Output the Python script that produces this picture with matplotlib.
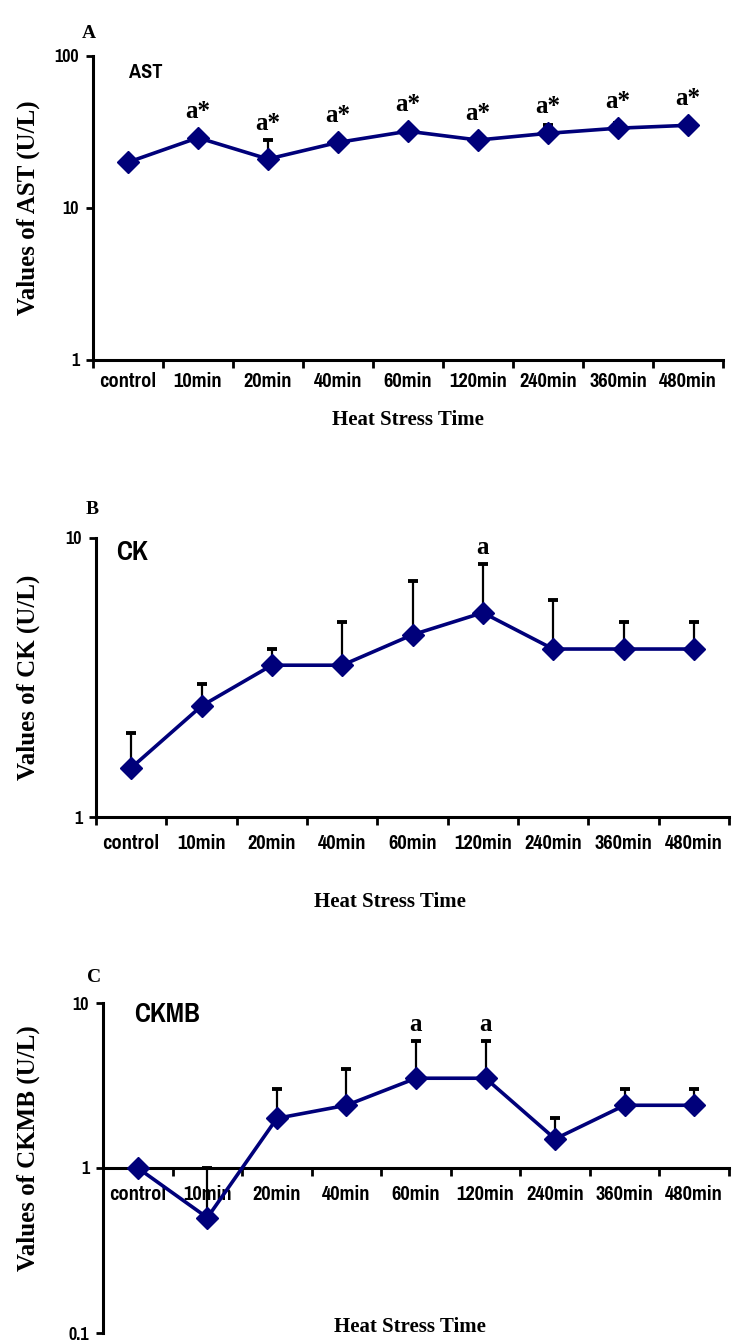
import numpy as np
import matplotlib
matplotlib.use('Agg')
import matplotlib.pyplot as plt
from matplotlib import font_manager
from matplotlib.font_manager import FontProperties
from matplotlib.ticker import LogLocator, NullLocator, FuncFormatter

# data
categories = ['control', '10min', '20min', '40min', '60min', '120min', '240min', '360min', '480min']

ast_mean = [20, 29, 21, 27, 32, 28, 31, 33.5, 35]
ast_err = [1, 1.5, 7, 1.5, 1.5, 1.5, 4, 2.5, 1]
ast_sig = ['', 'a*', 'a*', 'a*', 'a*', 'a*', 'a*', 'a*', 'a*']

ck_mean = [1.5, 2.5, 3.5, 3.5, 4.5, 5.4, 4, 4, 4]
ck_err = [0.5, 0.5, 0.5, 1.5, 2.5, 2.7, 2, 1, 1]
ck_sig = ['', '', '', '', '', 'a', '', '', '']

ckmb_mean = [1, 0.5, 2, 2.4, 3.5, 3.5, 1.5, 2.4, 2.4]
ckmb_err = [0, 0.5, 1, 1.6, 2.4, 2.4, 0.5, 0.6, 0.6]
ckmb_sig = ['', '', '', '', 'a', 'a', '', '', '']


# look for a bold narrow sans (the original has an Arial Narrow look)
def find_narrow():
    found = {}
    for f in font_manager.fontManager.ttflist:
        nm = f.name.lower()
        fn = str(f.fname).lower()
        if 'mono' in nm or 'serif' in nm or f.style != 'normal' or 'italic' in fn:
            continue
        bold = f.weight in ('bold', 700) or fn.endswith('bold.ttf') or fn.endswith('-bold.otf')
        if not bold or 'extrabold' in fn or 'semibold' in fn:
            continue
        if 'narrow' in nm:
            found[0] = f.fname
        elif 'semicondensed' in fn or f.stretch == 'semi-condensed':
            found.setdefault(1, f.fname)
        elif 'extracondensed' in fn or 'extra' in f.stretch:
            continue
        elif 'condensed' in nm or 'condensed' in fn or f.stretch == 'condensed':
            found.setdefault(2, f.fname)
    if not found:
        return None, 1.0
    k = min(found)
    return found[k], {0: 1.0, 1: 0.9, 2: 1.0}[k]


narrow_path, nscale = find_narrow()


def nfont(size):
    if narrow_path:
        return FontProperties(fname=narrow_path, size=size * nscale)
    return FontProperties(family='Liberation Sans', weight='bold', size=size * 0.85)


serif = 'Liberation Serif'

W, H = 738, 1344
fig = plt.figure(figsize=(W / 100, H / 100), dpi=100)
navy = '#00007a'


def px_rect(x0, y0, x1, y1):
    return [x0 / W, 1 - y1 / H, (x1 - x0) / W, (y1 - y0) / H]


panels = [
    dict(rect=px_rect(93, 56, 723, 360), mean=ast_mean, err=ast_err, sig=ast_sig,
         ylim=(1, 100), ylabel='Values of AST (U/L)', letter='A', name='AST',
         letter_xy=(89, 33), name_xy=(146, 72), name_size=16,
         ylab_xy=(-0.084, 0.5), xlab_xy=(0.5, -0.165), pad=9, axis_at=None),
    dict(rect=px_rect(96, 538, 729, 817), mean=ck_mean, err=ck_err, sig=ck_sig,
         ylim=(1, 10), ylabel='Values of CK (U/L)', letter='B', name='CK',
         letter_xy=(92, 510), name_xy=(132, 552), name_size=21,
         ylab_xy=(-0.088, 0.5), xlab_xy=(0.464, -0.27), pad=12, axis_at=None),
    dict(rect=px_rect(103, 1003, 729, 1333), mean=ckmb_mean, err=ckmb_err, sig=ckmb_sig,
         ylim=(0.1, 10), ylabel='Values of CKMB (U/L)', letter='C', name='CKMB',
         letter_xy=(94, 978), name_xy=(167, 1015), name_size=21,
         ylab_xy=(-0.1, 0.56), xlab_xy=(0.49, 0.05), pad=12, axis_at=1),
]

x = np.arange(len(categories))

for p in panels:
    ax = fig.add_axes(p['rect'])
    ax.set_yscale('log')
    ax.set_ylim(*p['ylim'])
    ax.set_xlim(-0.5, len(categories) - 0.5)

    mean = np.array(p['mean'], dtype=float)
    err = np.array(p['err'], dtype=float)
    ax.errorbar(x, mean, yerr=[np.zeros_like(err), err], fmt='none', ecolor='black',
                elinewidth=1.6, capsize=3.5, capthick=2.8, zorder=2, clip_on=False)
    ax.plot(x, mean, color=navy, lw=2.6, marker='D', ms=11, zorder=3, clip_on=False)

    for s in ['top', 'right']:
        ax.spines[s].set_visible(False)
    for s in ['left', 'bottom']:
        ax.spines[s].set_linewidth(2.2)
    if p['axis_at'] is not None:
        ax.spines['bottom'].set_position(('data', p['axis_at']))

    ax.set_xticks(np.arange(-0.5, len(categories), 1))
    ax.set_xticklabels([])
    ax.set_xticks(x, minor=True)
    ax.set_xticklabels(categories, minor=True, fontproperties=nfont(16))
    ax.tick_params(axis='x', which='major', length=6, width=2, direction='out')
    ax.tick_params(axis='x', which='minor', length=0, pad=p['pad'])

    ax.yaxis.set_major_locator(LogLocator(base=10, subs=(1.0,)))
    ax.yaxis.set_minor_locator(NullLocator())
    ax.yaxis.set_major_formatter(FuncFormatter(lambda v, pos: f'{v:g}'))
    ax.tick_params(axis='y', length=5, width=2, pad=5)
    for t in ax.get_yticklabels():
        t.set_fontproperties(nfont(14))

    ax.set_ylabel(p['ylabel'], fontsize=18, fontweight='bold', family=serif)
    ax.yaxis.set_label_coords(*p['ylab_xy'])
    ax.set_xlabel('Heat Stress Time', fontsize=15, fontweight='bold', family=serif)
    ax.xaxis.set_label_coords(*p['xlab_xy'])

    # significance marks above marker / error cap
    for i, lab in enumerate(p['sig']):
        if not lab:
            continue
        y_mark = ax.transData.transform((i, mean[i]))[1] + 10
        y_cap = ax.transData.transform((i, mean[i] + err[i]))[1]
        y_txt = max(y_mark, y_cap) + 5
        yv = ax.transData.inverted().transform((0, y_txt))[1]
        ax.text(i, yv, lab, ha='center', va='bottom', fontsize=18,
                fontweight='bold', family=serif)

    fig.text(p['letter_xy'][0] / W, 1 - p['letter_xy'][1] / H, p['letter'],
             fontsize=14, fontweight='bold', family=serif, va='center', ha='center')
    fig.text(p['name_xy'][0] / W, 1 - p['name_xy'][1] / H, p['name'],
             fontproperties=nfont(p['name_size']), va='center', ha='center')

fig.savefig('out.png', dpi=100)
